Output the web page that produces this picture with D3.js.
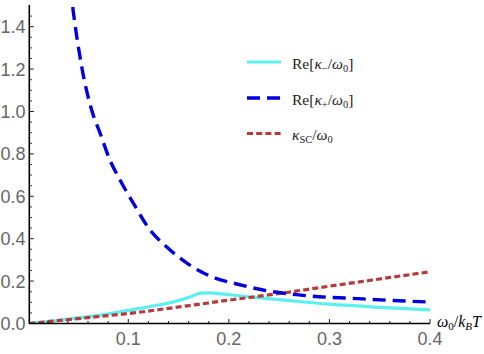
<!DOCTYPE html>
<html>
<head>
<meta charset="utf-8">
<script src="https://cdn.jsdelivr.net/npm/d3@7"></script>
<style>
  body { margin: 0; background: #fff; }
  svg { display: block; }
</style>
</head>
<body>
<div class="vis-chart"></div>
<script>
// values
const kMinusW = [0.0016, 0.04, 0.07, 0.1, 0.13, 0.15, 0.162, 0.172, 0.18, 0.19, 0.2, 0.22, 0.25, 0.3, 0.35, 0.4];
const kMinusV = [0, 0.02, 0.038, 0.062, 0.087, 0.108, 0.126, 0.143, 0.144, 0.141, 0.136, 0.126, 0.113, 0.091, 0.076, 0.064];

const kPlusW = [0.040, 0.0447, 0.0537, 0.0636, 0.0719, 0.0818, 0.0918, 0.105, 0.1217, 0.138, 0.158, 0.172, 0.19, 0.204, 0.234, 0.267, 0.333, 0.4];
const kPlusV = [1.68, 1.494, 1.211, 1.007, 0.899, 0.771, 0.677, 0.568, 0.441, 0.362, 0.286, 0.245, 0.208, 0.191, 0.158, 0.136, 0.116, 0.101];

const kScW = [0.0016, 0.05, 0.107, 0.15, 0.2, 0.251, 0.3, 0.35, 0.4];
const kScV = [0, 0.023, 0.051, 0.078, 0.11, 0.142, 0.176, 0.21, 0.244];

const xTicks = [0.1, 0.2, 0.3, 0.4];
const yTicks = [0.0, 0.2, 0.4, 0.6, 0.8, 1.0, 1.2, 1.4];

const width = 484, height = 354;

const svg = d3.select('.vis-chart')
    .append('svg')
    .attr('width', width)
    .attr('height', height);

const x = d3.scaleLinear().domain([0.0016, 0.4]).range([29.3, 430]);
const y = d3.scaleLinear().domain([0, 1.5]).range([323.5, 5.5]);

const zip = (ws, vs) => ws.map((w, i) => ({w: w, v: vs[i]}));

svg.append('defs').append('clipPath')
    .attr('id', 'plotclip')
    .append('rect')
    .attr('x', x.range()[0]).attr('y', y(1.5))
    .attr('width', x.range()[1] - x.range()[0] + 2)
    .attr('height', y(0) - y(1.5));

const line = d3.line()
    .x(d => x(d.w))
    .y(d => y(d.v))
    .curve(d3.curveMonotoneX);

const series = [
    {data: zip(kScW, kScV), color: '#b9393a', width: 3.2, dash: '6,3.2'},
    {data: zip(kMinusW, kMinusV), color: '#5cf0f0', width: 3.2, dash: null},
    {data: zip(kPlusW, kPlusV), color: '#0000dc', width: 3.4, dash: '13,7'}
];

const plot = svg.append('g').attr('clip-path', 'url(#plotclip)');
// draw order: cyan under, red, blue on top
[series[1], series[0], series[2]].forEach(s => {
    plot.append('path')
        .datum(s.data)
        .attr('fill', 'none')
        .attr('stroke', s.color)
        .attr('stroke-width', s.width)
        .attr('stroke-dasharray', s.dash)
        .attr('d', line);
});

// axes, ticks pointing inward like Mathematica
const axes = svg.append('g').attr('stroke', '#000');
axes.append('line')
    .attr('x1', x.range()[0]).attr('x2', x.range()[0])
    .attr('y1', 5).attr('y2', y(0) + 0.5)
    .attr('stroke-width', 1.6);
axes.append('line')
    .attr('x1', x.range()[0]).attr('x2', x(0.4))
    .attr('y1', y(0)).attr('y2', y(0))
    .attr('stroke-width', 1.6);

const xMinor = d3.range(1, 21).map(i => i * 0.02);
axes.selectAll('.xt')
    .data(xMinor)
    .join('line')
    .attr('x1', d => x(d)).attr('x2', d => x(d))
    .attr('y1', y(0))
    .attr('y2', d => y(0) - (Math.abs(d * 10 - Math.round(d * 10)) < 1e-6 ? 4.5 : 2.5))
    .attr('stroke-width', 0.9);

const yMinor = d3.range(1, 30).map(i => i * 0.05);
axes.selectAll('.yt')
    .data(yMinor)
    .join('line')
    .attr('y1', d => y(d)).attr('y2', d => y(d))
    .attr('x1', x.range()[0])
    .attr('x2', d => x.range()[0] + (Math.abs(d * 5 - Math.round(d * 5)) < 1e-6 ? 4.5 : 2.5))
    .attr('stroke-width', 0.9);

const labels = svg.append('g')
    .style('font', '18px "Liberation Sans", Arial, sans-serif')
    .attr('fill', '#666');

labels.selectAll('.xl')
    .data(xTicks)
    .join('text')
    .attr('x', d => x(d))
    .attr('y', 345)
    .attr('text-anchor', 'middle')
    .text(d => d.toFixed(1));

labels.selectAll('.yl')
    .data(yTicks)
    .join('text')
    .attr('x', 25.5)
    .attr('y', d => y(d))
    .attr('dy', '0.36em')
    .attr('text-anchor', 'end')
    .text(d => d.toFixed(1));

// axis label w0/kBT, runs off the right edge
const xl = svg.append('text')
    .attr('x', 437)
    .attr('y', 327)
    .style('font', 'italic 16px "Liberation Serif", "DejaVu Serif", serif')
    .attr('fill', '#000');
xl.append('tspan').text('ω');
xl.append('tspan').attr('font-size', '11px').attr('font-style', 'normal').attr('dy', 3).text('0');
xl.append('tspan').attr('dy', -3).attr('font-style', 'normal').text('/');
xl.append('tspan').text('k');
xl.append('tspan').attr('font-size', '11px').attr('dy', 3).text('B');
xl.append('tspan').attr('dy', -3).text('T');

// legend
const legendItems = [
    {s: series[1], y: 62, parts: [['Re[', 'n'], ['κ', 'i'], ['−', 'sub'], ['/', 'n'], ['ω', 'i'], ['0', 'sub'], [']', 'n']]},
    {s: series[2], y: 98, parts: [['Re[', 'n'], ['κ', 'i'], ['+', 'sub'], ['/', 'n'], ['ω', 'i'], ['0', 'sub'], [']', 'n']]},
    {s: series[0], y: 133.5, parts: [['κ', 'i'], ['SC', 'sub'], ['/', 'n'], ['ω', 'i'], ['0', 'sub']]}
];

const legend = svg.append('g');
legendItems.forEach(item => {
    legend.append('line')
        .attr('x1', 247).attr('x2', 281)
        .attr('y1', item.y).attr('y2', item.y)
        .attr('stroke', item.s.color)
        .attr('stroke-width', item.s.width)
        .attr('stroke-dasharray', item.s.dash);
    const t = legend.append('text')
        .attr('x', 292)
        .attr('y', item.y + 6.5)
        .style('font', '15.5px "Liberation Serif", "DejaVu Serif", serif')
        .attr('fill', '#222');
    let shifted = false;
    item.parts.forEach(p => {
        const ts = t.append('tspan').text(p[0]);
        if (p[1] === 'i') ts.attr('font-style', 'italic');
        if (p[1] === 'sub') {
            ts.attr('font-size', '10.5px').attr('dy', 3);
            shifted = true;
        } else if (shifted) {
            ts.attr('dy', -3);
            shifted = false;
        }
    });
});
</script>
</body>
</html>
